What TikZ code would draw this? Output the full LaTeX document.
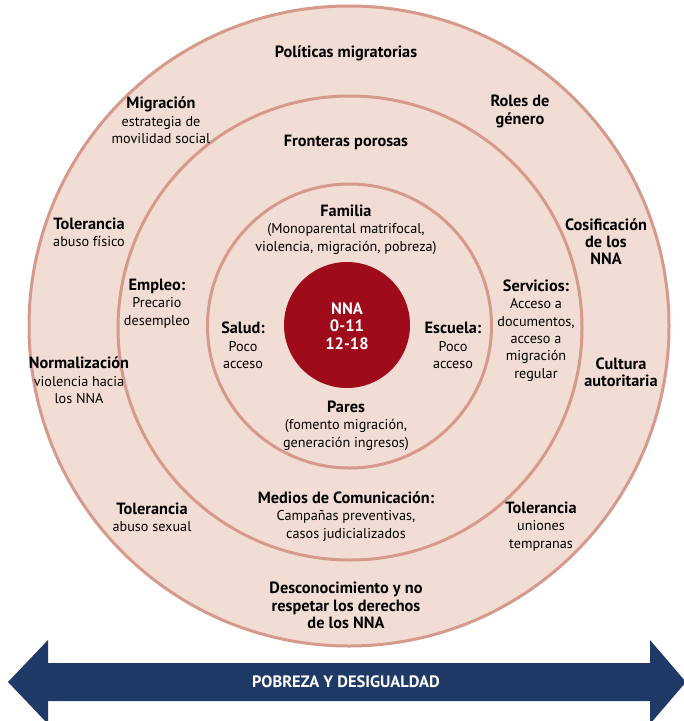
\documentclass[tikz,border=0pt]{standalone}
\usepackage{fontspec}
\setmainfont{PT Sans}
\definecolor{ringfill}{HTML}{F2DDD5}
\definecolor{ringline}{HTML}{D69A8C}
\definecolor{corered}{HTML}{A00B1B}
\definecolor{navy}{HTML}{1F3A66}
\tikzset{
  ring/.style={circle, draw=ringline, line width=3pt, fill=ringfill, inner sep=0pt},
  lbl/.style={align=center, font=\fontsize{14.2}{17.3}\selectfont, text=black, inner sep=0pt, yshift=-1.5pt},
}
\newcommand{\hd}[1]{{\bfseries\fontsize{16.3}{17.3}\selectfont #1}}
\begin{document}
\begin{tikzpicture}[x=1pt,y=-1pt]
\useasboundingbox (0,0) rectangle (684,721);
\fill[white] (0,0) rectangle (684,721);
\node[ring, minimum size=640pt] (outer) at (349,326) {};
\node[ring, minimum size=464pt] (middle) at (350,328) {};
\node[ring, minimum size=284pt] (inner) at (349.5,326) {};
\node[circle, fill=corered, minimum size=126pt, inner sep=0pt] (core) at (347,325) {};
\node[align=center, text=white, font=\bfseries\fontsize{16.5}{17.5}\selectfont, yshift=-1pt] (nna) at (347,325) {NNA\\0-11\\12-18};

% outer ring
\node[lbl] (pol) at (346,52) {\hd{Políticas migratorias}};
\node[lbl] (mig) at (161,119) {\hd{Migración}\\estrategia de\\movilidad social};
\node[lbl] (roles) at (520,110) {\hd{Roles de}\\\hd{género}};
\node[lbl] (tolf) at (89,231) {\hd{Tolerancia}\\abuso físico};
\node[lbl] (cos) at (606,240) {\hd{Cosificación}\\\hd{de los}\\\hd{NNA}};
\node[lbl] (norm) at (79,379) {\hd{Normalización}\\violencia hacia\\los NNA};
\node[lbl] (cult) at (621,371) {\hd{Cultura}\\\hd{autoritaria}};
\node[lbl] (tols) at (152,516) {\hd{Tolerancia}\\abuso sexual};
\node[lbl] (tolu) at (541,525) {\hd{Tolerancia}\\uniones\\tempranas};
\node[lbl] (desc) at (346,604) {\hd{Desconocimiento y no}\\\hd{respetar los derechos}\\\hd{de los NNA}};

% middle ring
\node[lbl] (front) at (346,141) {\hd{Fronteras porosas}};
\node[lbl] (empl) at (157,302) {\hd{Empleo:}\\Precario\\desempleo};
\node[lbl] (serv) at (536,329) {\hd{Servicios:}\\Acceso a\\documentos,\\acceso a\\migración\\regular};
\node[lbl] (medios) at (346,515) {\hd{Medios de Comunicación:}\\Campañas preventivas,\\casos judicializados};

% inner ring
\node[lbl] (fam) at (346,228) {\hd{Familia}\\(Monoparental matrifocal,\\violencia, migración, pobreza)};
\node[lbl] (salud) at (243,344) {\hd{Salud:}\\Poco\\acceso};
\node[lbl] (esc) at (453,344) {\hd{Escuela:}\\Poco\\acceso};
\node[lbl] (pares) at (346,424) {\hd{Pares}\\(fomento migración,\\generación ingresos)};

% arrow
\fill[navy] (8,682) -- (48,640) -- (48,663) -- (650,663) -- (650,640) -- (686,682) -- (650,724) -- (650,701) -- (48,701) -- (48,724) -- cycle;
\node[text=white, font=\bfseries\fontsize{16.5}{18}\selectfont] (pob) at (346,682) {POBREZA Y DESIGUALDAD};
\end{tikzpicture}
\end{document}
